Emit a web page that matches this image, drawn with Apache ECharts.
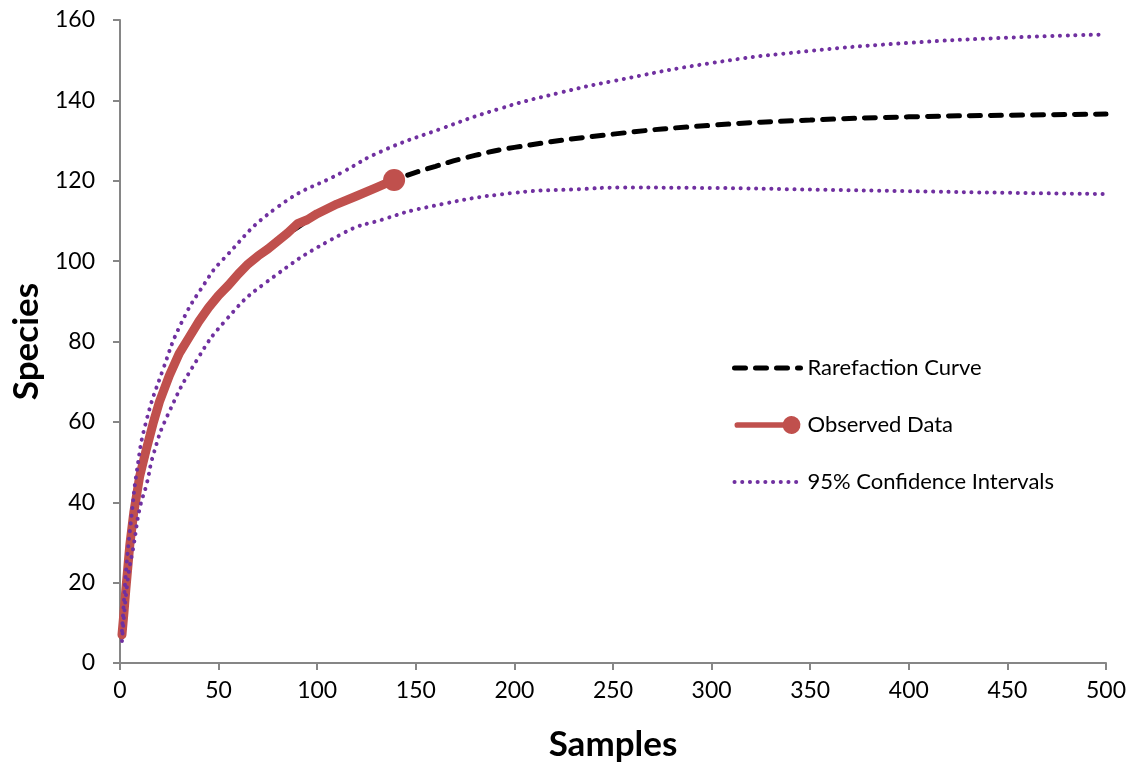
<!DOCTYPE html>
<html lang="en">
<head>
    <meta charset="UTF-8">
    <script src="https://cdn.jsdelivr.net/npm/echarts@6/dist/echarts.min.js"></script>
    <title>Rarefaction</title>
    <style>
        html, body { margin: 0; padding: 0; background: #fff; }
        #chart { width: 1137px; height: 769px; }
    </style>
</head>
<body>
    <div id="chart"></div>
<script>
    // values
    var curveX = [1, 2, 3, 5, 7, 10, 15, 20, 30, 40, 50, 60, 70, 80, 90, 100, 120, 140, 160, 180, 200, 250, 300, 350, 400, 450, 500];
    var curveY = [6.5, 12, 18, 29, 37, 46, 56.5, 65, 77, 84.5, 91.3, 96.5, 101, 105, 108.4, 111.6, 116, 120.3, 123.6, 126.3, 128.3, 131.6, 133.8, 135.1, 135.9, 136.3, 136.6];

    var obsX = [1, 2, 3, 5, 7, 10, 13, 17, 20, 25, 30, 35, 40, 45, 50, 55, 60, 65, 70, 75, 80, 85, 90, 95, 100, 110, 120, 130, 139];
    var obsY = [7, 12.5, 18.5, 29.5, 37.5, 46.5, 52.5, 60, 65, 71.5, 77, 81, 85, 88.5, 91.5, 94, 96.8, 99.3, 101.3, 103, 105, 107, 109.3, 110.3, 111.8, 114.2, 116.2, 118.3, 120.2];

    var upperX = [1, 1.7, 3.4, 5.9, 8.5, 13, 22, 31, 43, 52, 80, 113, 132, 162, 193, 223, 250, 300, 350, 400, 450, 500];
    var upperY = [8, 13.2, 24.8, 36.8, 47.6, 59.6, 73.3, 84.5, 94.5, 100.3, 113.5, 122.2, 127.2, 132.8, 138, 141.9, 144.8, 149.3, 152.3, 154.3, 155.6, 156.4];

    var lowerX = [1, 4, 7, 10, 13.5, 17, 24, 39, 54, 73.5, 113, 133.5, 155.5, 200, 233, 253, 300, 350, 400, 450, 500];
    var lowerY = [5.5, 21, 29.5, 38.5, 44.5, 52, 61.5, 75.4, 85.5, 94.5, 106.9, 110.4, 113.4, 117, 117.9, 118.3, 118.2, 117.8, 117.4, 117, 116.7];

    var xTicks = [0, 50, 100, 150, 200, 250, 300, 350, 400, 450, 500];
    var yTicks = [0, 20, 40, 60, 80, 100, 120, 140, 160];

    function zip(xs, ys) {
        return xs.map(function (x, i) { return [x, ys[i]]; });
    }

    var obsData = zip(obsX, obsY);
    var last = obsData.length - 1;
    obsData[last] = { value: obsData[last], symbol: 'circle', symbolSize: 22 };

    var font = 'Lato, "Open Sans", sans-serif';
    var axisColor = '#868686';
    var noMarker = { opacity: 0, color: 'rgba(0,0,0,0)', borderWidth: 0 };
    var dashed = { color: '#000', width: 5, type: [11, 10], cap: 'round' };
    var dotted = { color: '#7030A0', width: 4, type: [0.1, 7.6], cap: 'round' };

    var myChart = echarts.init(document.getElementById('chart'));
    myChart.setOption({
        animation: false,
        grid: { left: 120, right: 31, top: 20, bottom: 106 },
        legend: {
            orient: 'vertical',
            left: 727,
            top: 352,
            itemGap: 35,
            itemWidth: 66,
            itemHeight: 22,
            textStyle: { fontFamily: font, fontSize: 22, color: '#000', padding: [0, 0, 0, 2] },
            data: [
                { name: 'Rarefaction Curve', itemStyle: noMarker, lineStyle: dashed },
                { name: 'Observed Data', icon: 'path://M3,7.5 L59,7.5 A11,11 0 1 1 59,14.5 L3,14.5 A3.5,3.5 0 0 1 3,7.5 Z' },
                { name: '95% Confidence Intervals', itemStyle: noMarker, lineStyle: dotted }
            ]
        },
        xAxis: {
            type: 'value',
            min: xTicks[0],
            max: xTicks[xTicks.length - 1],
            interval: 50,
            name: 'Samples',
            nameLocation: 'middle',
            nameGap: 64,
            nameTextStyle: { fontFamily: font, fontSize: 35, fontWeight: 'bold', color: '#000' },
            axisLine: { lineStyle: { color: axisColor, width: 2 } },
            axisTick: { show: true, length: 7, lineStyle: { color: axisColor, width: 2 } },
            axisLabel: { fontFamily: font, fontSize: 23, color: '#000', margin: 16 },
            splitLine: { show: false }
        },
        yAxis: {
            type: 'value',
            min: yTicks[0],
            max: yTicks[yTicks.length - 1],
            interval: 20,
            name: 'Species',
            nameLocation: 'middle',
            nameGap: 76,
            nameTextStyle: { fontFamily: font, fontSize: 35, fontWeight: 'bold', color: '#000' },
            axisLine: { show: true, lineStyle: { color: axisColor, width: 2 } },
            axisTick: { show: true, length: 7, lineStyle: { color: axisColor, width: 2 } },
            axisLabel: { fontFamily: font, fontSize: 23, color: '#000', margin: 25 },
            splitLine: { show: false }
        },
        series: [
            {
                name: 'Rarefaction Curve',
                type: 'line',
                data: zip(curveX, curveY),
                smooth: 0.5,
                symbol: 'none',
                lineStyle: dashed,
                itemStyle: { color: '#000' },
                z: 2
            },
            {
                name: 'Observed Data',
                type: 'line',
                data: obsData,
                symbol: 'circle',
                symbolSize: 0,
                showSymbol: true,
                lineStyle: { color: '#C0504D', width: 9, cap: 'round', join: 'round' },
                itemStyle: { color: '#C0504D' },
                z: 3
            },
            {
                name: '95% Confidence Intervals',
                type: 'line',
                data: zip(upperX, upperY),
                smooth: 0.5,
                symbol: 'none',
                lineStyle: dotted,
                itemStyle: { color: '#7030A0' },
                z: 4
            },
            {
                name: '95% Confidence Intervals',
                type: 'line',
                data: zip(lowerX, lowerY),
                smooth: 0.5,
                symbol: 'none',
                lineStyle: dotted,
                itemStyle: { color: '#7030A0' },
                z: 4
            }
        ]
    });
</script>
</body>
</html>
